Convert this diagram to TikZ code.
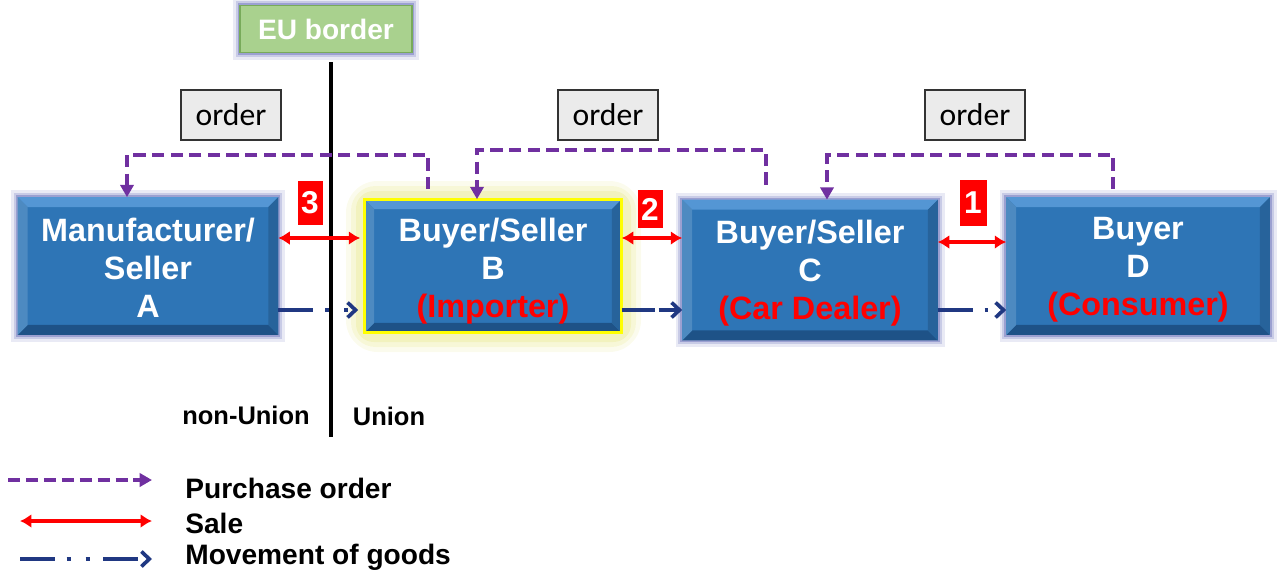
\documentclass[tikz,border=0pt]{standalone}
\usepackage{fontspec}
\setmainfont{Liberation Sans}
\newfontfamily\orderfont{Carlito}
\usetikzlibrary{arrows.meta,calc}
\definecolor{boxblue}{RGB}{46,117,182}
\definecolor{boxlight}{RGB}{84,150,212}
\definecolor{boxdark}{RGB}{30,82,135}
\definecolor{glowblue}{RGB}{70,80,170}
\definecolor{eugreen}{RGB}{169,209,142}
\definecolor{eugreenline}{RGB}{120,170,90}
\definecolor{ordgrey}{RGB}{235,235,235}
\definecolor{popurple}{RGB}{112,48,160}
\definecolor{salered}{RGB}{255,0,0}
\definecolor{goodsnavy}{RGB}{32,56,130}
\definecolor{hiyellow}{RGB}{255,255,0}
\definecolor{glowyellow}{RGB}{220,220,80}
\newcommand\bevelbox[1]{%
  \fill[boxlight] (#1.north west) -- (#1.north east) -- ($(#1.north east)+(-10,10)$) -- ($(#1.north west)+(10,10)$) -- cycle;
  \fill[boxdark] (#1.south west) -- (#1.south east) -- ($(#1.south east)+(-10,-10)$) -- ($(#1.south west)+(10,-10)$) -- cycle;
  \fill[boxblue!85!white] (#1.north west) -- (#1.south west) -- ($(#1.south west)+(10,-10)$) -- ($(#1.north west)+(10,10)$) -- cycle;
  \fill[boxblue!85!black] (#1.north east) -- (#1.south east) -- ($(#1.south east)+(-10,-10)$) -- ($(#1.north east)+(-10,10)$) -- cycle;
}
\begin{document}
\begin{tikzpicture}[x=0.02cm,y=-0.02cm,
  bbox/.style={fill=boxblue, draw=none, inner sep=0pt,
    preaction={draw=glowblue, line width=8pt, opacity=.12, rounded corners=3pt},
    preaction={draw=glowblue, line width=5pt, opacity=.2, rounded corners=2pt},
    preaction={draw=glowblue, line width=2.5pt, opacity=.35}},
  btext/.style={text=white, font=\bfseries\fontsize{18.4}{21.5}\selectfont, align=center, inner sep=0pt},
  eubox/.style={fill=eugreen, draw=eugreenline, line width=1pt, text=white,
    font=\bfseries\fontsize{16}{19}\selectfont, minimum width=3.44cm, minimum height=0.94cm, inner sep=0pt,
    preaction={draw=glowblue, line width=8pt, opacity=.12, rounded corners=3pt},
    preaction={draw=glowblue, line width=5pt, opacity=.2, rounded corners=2pt},
    preaction={draw=glowblue, line width=2.5pt, opacity=.35}},
  ordbox/.style={fill=ordgrey, draw=black!80, line width=0.8pt, font=\orderfont\fontsize{18}{21}\selectfont,
    minimum width=2.0cm, minimum height=1.0cm, inner sep=0pt},
  numbox/.style={fill=salered, text=white, font=\bfseries\fontsize{18}{21}\selectfont, inner sep=0pt,
    minimum width=0.5cm, minimum height=0.9cm},
  lbl/.style={font=\bfseries\fontsize{14.5}{17}\selectfont, inner sep=0pt},
  legtxt/.style={font=\bfseries\fontsize{16}{19}\selectfont, inner sep=0pt, anchor=west},
  po/.style={draw=popurple, line width=2.5pt, dash pattern=on 7pt off 3.6pt,
    -{Triangle[length=7pt,width=7.5pt]}},
  sale/.style={draw=salered, line width=2.1pt, {Latex[length=6.5pt,width=8pt]}-{Latex[length=6.5pt,width=8pt]}},
  goods/.style={draw=goodsnavy, line width=2.1pt, dash pattern=on 19.8pt off 6.8pt on 2.2pt off 8.6pt on 2.2pt off 7.9pt,
    -{Straight Barb[length=4.5pt,width=8.5pt,line width=2.1pt]}},
  border/.style={draw=black, line width=2pt}
]
\useasboundingbox (0,0) rectangle (1277,578);

% EU border and dividing line
\node[eubox] (EU) at (326,29) {EU border};
\coordinate (bt) at (331,62);
\coordinate (bb) at (331,437);
\draw[border] (bt) -- (bb);

% glow for B
\fill[glowyellow, opacity=.10, rounded corners=18pt] (346,181) rectangle (641,352);
\fill[glowyellow, opacity=.14, rounded corners=14pt] (351,186) rectangle (636,347);
\fill[glowyellow, opacity=.18, rounded corners=10pt] (356,191) rectangle (631,342);

% boxes
\node[bbox, minimum width=5.2cm, minimum height=2.74cm] (A) at (148,266) {};
\node[fill=boxblue, inner sep=0pt, minimum width=5.14cm, minimum height=2.66cm] (B) at (493,266) {};
\node[bbox, minimum width=5.1cm, minimum height=2.8cm] (C) at (810,270) {};
\node[bbox, minimum width=5.26cm, minimum height=2.74cm] (D) at (1138,266) {};
\bevelbox{A}
\bevelbox{B}
\bevelbox{C}
\bevelbox{D}
\draw[hiyellow, line width=1.8pt] (B.north west) rectangle (B.south east);

\node[btext] (At) at ($(A.center)+(0,2)$) {Manufacturer/\\Seller\\A};
\node[btext] (Bt) at ($(B.center)+(0,5)$) {Buyer/Seller\\B\\\textcolor{salered}{(Importer)}};
\node[btext] (Ct) at ($(C.center)+(0,3)$) {Buyer/Seller\\C\\\textcolor{salered}{(Car Dealer)}};
\node[btext] (Dt) at ($(D.center)+(0,4)$) {Buyer\\D\\\textcolor{salered}{(Consumer)}};

% order labels
\node[ordbox] (o1) at (231,115) {order};
\node[ordbox] (o2) at (608,115) {order};
\node[ordbox] (o3) at (975,115) {order};

% purchase order connectors
\coordinate (yAB) at (0,155);
\coordinate (yBC) at (0,150);
\coordinate (yCD) at (0,155);
\draw[po] ($(B.north)+(-65,-10)$) coordinate (sAB) -- (sAB |- yAB) -| ($(A.north)+(-21,0)$);
\draw[po] ($(C.north)+(-44,-15)$) coordinate (sBC) -- (sBC |- yBC) -| ($(B.north)+(-16,0)$);
\draw[po] ($(D.north)+(-25,-8)$) coordinate (sCD) -- (sCD |- yCD) -| ($(C.north)+(17,0)$);

% number badges
\node[numbox] (n3) at (310,203) {3};
\node[numbox, minimum height=0.76cm] (n2) at (650,209) {2};
\node[numbox, minimum width=0.54cm, minimum height=0.94cm] (n1) at (973,203) {1};

% sale arrows
\draw[sale] ($(A.east)+(0,-28)$) -- ($(B.west)+(-4,-28)$);
\draw[sale] ($(B.east)+(0,-28)$) -- ($(C.west)+(0,-32)$);
\draw[sale] ($(C.east)+(0,-28)$) -- ($(D.west)+(0,-24)$);

% movement of goods
\draw[goods] ($(A.east)+(0,44)$) -- ($(B.west)+(-6,44)$);
\draw[goods, dash pattern=on 19pt off 2pt] ($(B.east)+(0,44)$) -- ($(C.west)+(0,40)$);
\draw[goods] ($(C.east)+(0,40)$) -- ($(D.west)+(0,44)$);

% region labels
\node[lbl] (nu) at (246,415) {non-Union};
\node[lbl] (un) at (389,416) {Union};

% legend
\coordinate (l1a) at (8,480);  \coordinate (l1b) at (152,480);
\coordinate (l2a) at (20,521); \coordinate (l2b) at (152,521);
\coordinate (l3a) at (20,559); \coordinate (l3b) at (152,559);
\draw[po, dash pattern=on 7pt off 3.2pt] (l1a) -- (l1b);
\draw[sale] (l2a) -- (l2b);
\draw[goods] (l3a) -- (l3b);
\node[legtxt] (t1) at (185,488) {Purchase order};
\node[legtxt] (t2) at (185,523) {Sale};
\node[legtxt] (t3) at (185,557) {Movement of goods};
\end{tikzpicture}
\end{document}
